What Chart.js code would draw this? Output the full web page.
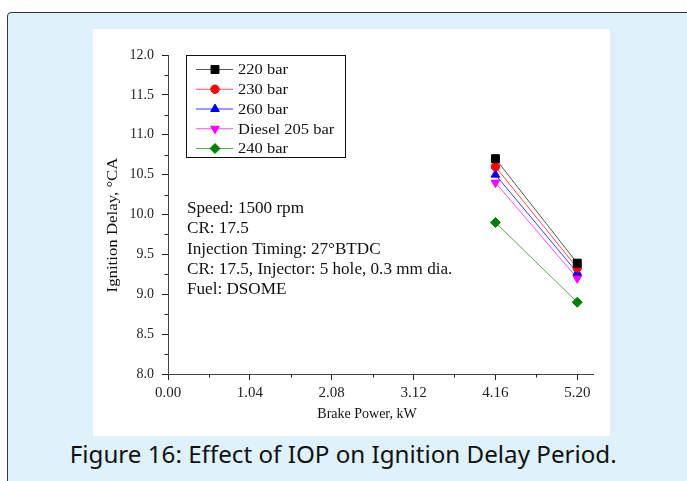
<!DOCTYPE html>
<html>
<head>
<meta charset="utf-8">
<script src="https://cdn.jsdelivr.net/npm/chart.js@4.4.0/dist/chart.umd.min.js"></script>
<style>
  html, body { margin: 0; padding: 0; }
  body { width: 687px; height: 481px; position: relative; overflow: hidden; background: #fff; }
  #frame { position: absolute; left: 7px; top: 12px; width: 720px; height: 520px; background: #dff1fb; border: 1.5px solid #333; border-radius: 4px; }
  #panel { position: absolute; left: 93px; top: 29px; width: 517px; height: 407px; background: #fff; }
  #caption { position: absolute; left: 0; top: 438px; width: 687px; text-align: center; white-space: nowrap; }
  #caption span { display: inline-block; font-family: "Noto Sans", sans-serif; font-size: 23px; color: #111; transform-origin: center; }
</style>
</head>
<body>
<div id="frame"></div>
<div id="panel"><canvas id="chart" width="517" height="407"></canvas></div>
<div id="caption"><span id="capText">Figure 16: Effect of IOP on Ignition Delay Period.</span></div>
<script>
// data
const brakePower = [4.16, 5.20];
const bar220 = [10.7, 9.39];
const bar230 = [10.6, 9.33];
const bar260 = [10.5, 9.27];
const diesel205 = [10.4, 9.2];
const bar240 = [9.9, 8.9];

const seriesNames = ['220 bar', '230 bar', '260 bar', 'Diesel 205 bar', '240 bar'];
const xTicks = [0.00, 1.04, 2.08, 3.12, 4.16, 5.20];
const yTicks = [8.0, 8.5, 9.0, 9.5, 10.0, 10.5, 11.0, 11.5, 12.0];
const xTitle = 'Brake Power, kW';
const yTitle = 'Ignition Delay, °CA';
const notes = [
  'Speed: 1500 rpm',
  'CR: 17.5',
  'Injection Timing: 27°BTDC',
  'CR: 17.5, Injector: 5 hole, 0.3 mm dia.',
  'Fuel: DSOME'
];

const serif = '"Liberation Serif", "Times New Roman", serif';

function pts(vals) {
  return brakePower.map((x, i) => ({ x: x, y: vals[i] }));
}

function makeSet(label, vals, marker, line, style, radius, rotation) {
  return {
    label: label,
    data: pts(vals),
    borderColor: line,
    borderWidth: 1,
    pointBackgroundColor: marker,
    pointBorderColor: marker,
    pointBorderWidth: 1,
    pointStyle: style,
    pointRadius: radius,
    pointRotation: rotation || 0,
    tension: 0
  };
}

// text stretched a little wider, like the source image
function wideText(ctx, text, x, y, sx, angle) {
  ctx.save();
  ctx.translate(x, y);
  if (angle) ctx.rotate(angle);
  ctx.scale(sx, 1);
  ctx.fillText(text, 0, 0);
  ctx.restore();
}

// minor ticks, titles, legend box, notes
const extras = {
  id: 'extras',
  afterDraw(chart) {
    const ctx = chart.ctx;
    const xs = chart.scales.x, ys = chart.scales.y;
    const area = chart.chartArea;
    ctx.save();
    ctx.strokeStyle = '#222';
    ctx.lineWidth = 1;
    ctx.beginPath();
    for (let i = 0; i < yTicks.length - 1; i++) {
      const py = Math.round(ys.getPixelForValue((yTicks[i] + yTicks[i + 1]) / 2)) + 0.5;
      ctx.moveTo(area.left - 3.5, py);
      ctx.lineTo(area.left, py);
    }
    for (let i = 0; i < xTicks.length - 1; i++) {
      const px = Math.round(xs.getPixelForValue((xTicks[i] + xTicks[i + 1]) / 2)) + 0.5;
      ctx.moveTo(px, area.bottom);
      ctx.lineTo(px, area.bottom + 3.5);
    }
    ctx.stroke();

    // axis titles
    ctx.fillStyle = '#111';
    ctx.textBaseline = 'middle';
    ctx.textAlign = 'center';
    ctx.font = '14px ' + serif;
    wideText(ctx, xTitle, 274, 385, 1);
    ctx.font = '15px ' + serif;
    wideText(ctx, yTitle, 20, 196, 1.12, -Math.PI / 2);
    ctx.textAlign = 'left';

    // legend
    const bx = 93.5, by = 26.5, bw = 159, bh = 102;
    ctx.strokeStyle = '#111';
    ctx.strokeRect(bx, by, bw, bh);
    ctx.font = '15px ' + serif;
    chart.data.datasets.forEach((ds, i) => {
      const y = by + 14 + i * 19.75;
      ctx.strokeStyle = ds.borderColor;
      ctx.lineWidth = 1;
      ctx.beginPath();
      ctx.moveTo(103, y);
      ctx.lineTo(140, y);
      ctx.stroke();
      ctx.fillStyle = ds.pointBackgroundColor;
      ctx.strokeStyle = ds.pointBorderColor;
      Chart.helpers.drawPoint(ctx, {
        pointStyle: ds.pointStyle, radius: ds.pointRadius,
        rotation: ds.pointRotation, borderWidth: 1
      }, 122, y);
      ctx.fillStyle = '#111';
      wideText(ctx, ds.label, 145, y + 1, 1.1);
    });

    // notes
    ctx.font = '16px ' + serif;
    ctx.fillStyle = '#111';
    notes.forEach((t, i) => {
      wideText(ctx, t, 94, 180 + i * 20.2, 1.07);
    });
    ctx.restore();
  }
};

new Chart(document.getElementById('chart'), {
  type: 'line',
  data: {
    datasets: [
      makeSet(seriesNames[0], bar220, '#000000', '#555555', 'rect', 5.6),
      makeSet(seriesNames[1], bar230, '#ff0000', '#ff4d4d', 'circle', 4.2),
      makeSet(seriesNames[2], bar260, '#0000ff', '#3a3aff', 'triangle', 5),
      makeSet(seriesNames[3], diesel205, '#ff00ff', '#ff4dff', 'triangle', 5, 180),
      makeSet(seriesNames[4], bar240, '#008000', '#55aa55', 'rectRot', 5)
    ]
  },
  options: {
    responsive: false,
    animation: false,
    events: [],
    layout: { padding: { left: 0, top: 26, right: 17, bottom: 0 } },
    plugins: { legend: { display: false }, tooltip: { enabled: false } },
    scales: {
      x: {
        type: 'linear',
        min: 0,
        max: 5.4,
        afterBuildTicks(scale) { scale.ticks = xTicks.map(v => ({ value: v })); },
        afterFit(scale) { scale.height = 62; },
        grid: { drawOnChartArea: false, tickLength: 6, color: '#222' },
        border: { display: true, color: '#444', width: 1 },
        ticks: {
          padding: 4,
          color: '#222',
          font: { family: serif, size: 15 },
          maxRotation: 0,
          callback: v => v.toFixed(2)
        }
      },
      y: {
        min: 8,
        max: 12,
        afterBuildTicks(scale) { scale.ticks = yTicks.map(v => ({ value: v })); },
        afterFit(scale) { scale.width = 75; },
        grid: { drawOnChartArea: false, tickLength: 6, color: '#222' },
        border: { display: true, color: '#444', width: 1 },
        ticks: {
          padding: 8,
          color: '#222',
          font: { family: serif, size: 14 },
          callback: v => v.toFixed(1)
        }
      }
    }
  },
  plugins: [extras]
});

// squeeze caption to the width it has in the figure
const cap = document.getElementById('capText');
const w = cap.getBoundingClientRect().width;
cap.style.transform = 'scaleX(' + (547 / w).toFixed(3) + ')';
</script>
</body>
</html>
